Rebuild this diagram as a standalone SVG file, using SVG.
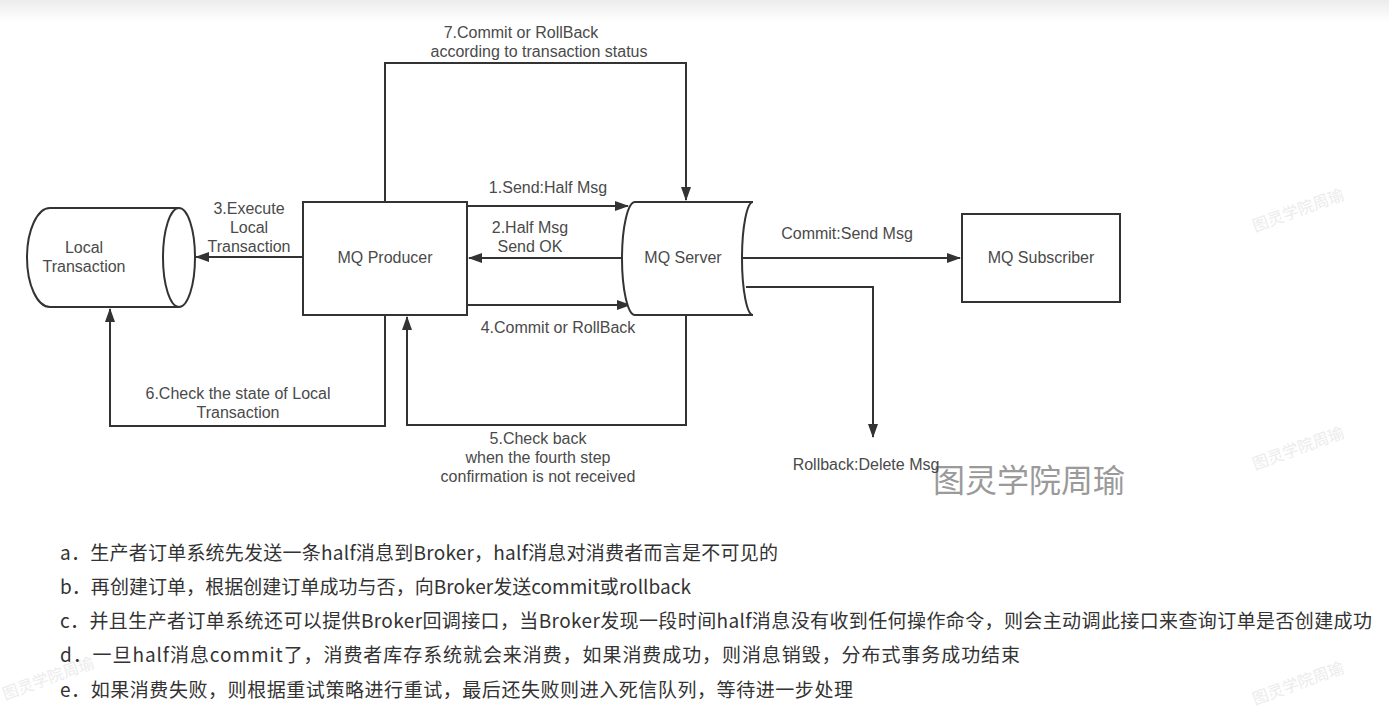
<svg xmlns="http://www.w3.org/2000/svg" width="1389" height="719" viewBox="0 0 1389 719">
<defs>
<marker id="arr" viewBox="0 0 14 10" refX="13" refY="5" markerWidth="14" markerHeight="10" markerUnits="userSpaceOnUse" orient="auto">
<path d="M0 0 L14 5 L0 10 Z" fill="#333"/>
</marker>
<linearGradient id="topfade" x1="0" y1="0" x2="0" y2="1">
<stop offset="0" stop-color="#ececec"/>
<stop offset="1" stop-color="#ffffff"/>
</linearGradient>
</defs>
<style>
.shape{fill:#fff;stroke:#333;stroke-width:2}
.conn{fill:none;stroke:#333;stroke-width:2}
.lbl{font-family:"Liberation Sans","Noto Sans CJK SC",sans-serif;font-size:16px;fill:#4a4a4a;text-anchor:middle}
.note{font-family:"Noto Sans CJK SC",sans-serif;font-size:19px;fill:#333}
.wm{font-family:"Noto Sans CJK SC",sans-serif;fill:#ececec;font-size:16px}
</style>
<rect x="0" y="0" width="1389" height="719" fill="#fff"/>
<rect x="0" y="0" width="1389" height="22" fill="url(#topfade)"/>

<g id="watermarks">
<text class="wm" x="1255" y="232" transform="rotate(-20 1255 232)">图灵学院周瑜</text>
<text class="wm" x="1255" y="470" transform="rotate(-20 1255 470)">图灵学院周瑜</text>
<text class="wm" x="1255" y="705" transform="rotate(-20 1255 705)">图灵学院周瑜</text>
<text class="wm" x="5" y="700" transform="rotate(-20 5 700)">图灵学院周瑜</text>
<text x="933" y="492" textLength="192" style="font-family:'Noto Sans CJK SC',sans-serif;font-size:32px;fill:#9a9a9a">图灵学院周瑜</text>
</g>

<g id="connectors">
<path class="conn" d="M467 206 L628 206" marker-end="url(#arr)"/>
<path class="conn" d="M622 258 L469 258" marker-end="url(#arr)"/>
<path class="conn" d="M304 257 L196 257" marker-end="url(#arr)"/>
<path class="conn" d="M467 305 L630 305" marker-end="url(#arr)"/>
<path class="conn" d="M686 315 L686 425 L407 425 L407 317" marker-end="url(#arr)"/>
<path class="conn" d="M385 315 L385 426 L110 426 L110 309" marker-end="url(#arr)"/>
<path class="conn" d="M385 202 L385 63 L686 63 L686 200" marker-end="url(#arr)"/>
<path class="conn" d="M743 258 L960 258" marker-end="url(#arr)"/>
<path class="conn" d="M746 287 L873 287 L873 437" marker-end="url(#arr)"/>
<text class="lbl" x="521" y="38">7.Commit or RollBack</text>
<text class="lbl" x="539" y="57">according to transaction status</text>
<text class="lbl" x="548" y="193">1.Send:Half Msg</text>
<text class="lbl" x="530" y="233">2.Half Msg</text>
<text class="lbl" x="530" y="252">Send OK</text>
<text class="lbl" x="558" y="333">4.Commit or RollBack</text>
<text class="lbl" x="249" y="214">3.Execute</text>
<text class="lbl" x="249" y="233">Local</text>
<text class="lbl" x="249" y="252">Transaction</text>
<text class="lbl" x="238" y="399">6.Check the state of Local</text>
<text class="lbl" x="238" y="418">Transaction</text>
<text class="lbl" x="538" y="444">5.Check back</text>
<text class="lbl" x="538" y="463">when the fourth step</text>
<text class="lbl" x="538" y="482">confirmation is not received</text>
<text class="lbl" x="847" y="239">Commit:Send Msg</text>
<text class="lbl" x="866" y="470">Rollback:Delete Msg</text>
</g>

<g id="local-transaction">
<path class="shape" d="M179 208 L50 208 A23 49.5 0 0 0 50 307 L179 307"/>
<ellipse class="shape" cx="179" cy="257.5" rx="16" ry="49.5"/>
<text class="lbl" x="84" y="253">Local</text>
<text class="lbl" x="84" y="272">Transaction</text>
</g>

<g id="mq-producer">
<rect class="shape" x="303" y="202" width="164" height="113"/>
<text class="lbl" x="385" y="263">MQ Producer</text>
</g>

<g id="mq-server">
<path class="shape" d="M635 202 L753 202 A11 56.5 0 0 0 753 315 L635 315 A13 56.5 0 0 1 635 202 Z"/>
<text class="lbl" x="683" y="263">MQ Server</text>
</g>

<g id="mq-subscriber">
<rect class="shape" x="962" y="214" width="158" height="88"/>
<text class="lbl" x="1041" y="263">MQ Subscriber</text>
</g>

<g id="notes">
<text class="note" x="60" y="560" textLength="718" lengthAdjust="spacing">a．生产者订单系统先发送一条half消息到Broker，half消息对消费者而言是不可见的</text>
<text class="note" x="60" y="594" textLength="631" lengthAdjust="spacing">b．再创建订单，根据创建订单成功与否，向Broker发送commit或rollback</text>
<text class="note" x="60" y="628" textLength="1312" lengthAdjust="spacing">c．并且生产者订单系统还可以提供Broker回调接口，当Broker发现一段时间half消息没有收到任何操作命令，则会主动调此接口来查询订单是否创建成功</text>
<text class="note" x="60" y="662" textLength="960" lengthAdjust="spacing">d．一旦half消息commit了，消费者库存系统就会来消费，如果消费成功，则消息销毁，分布式事务成功结束</text>
<text class="note" x="60" y="697" textLength="793" lengthAdjust="spacing">e．如果消费失败，则根据重试策略进行重试，最后还失败则进入死信队列，等待进一步处理</text>
</g>
</svg>
